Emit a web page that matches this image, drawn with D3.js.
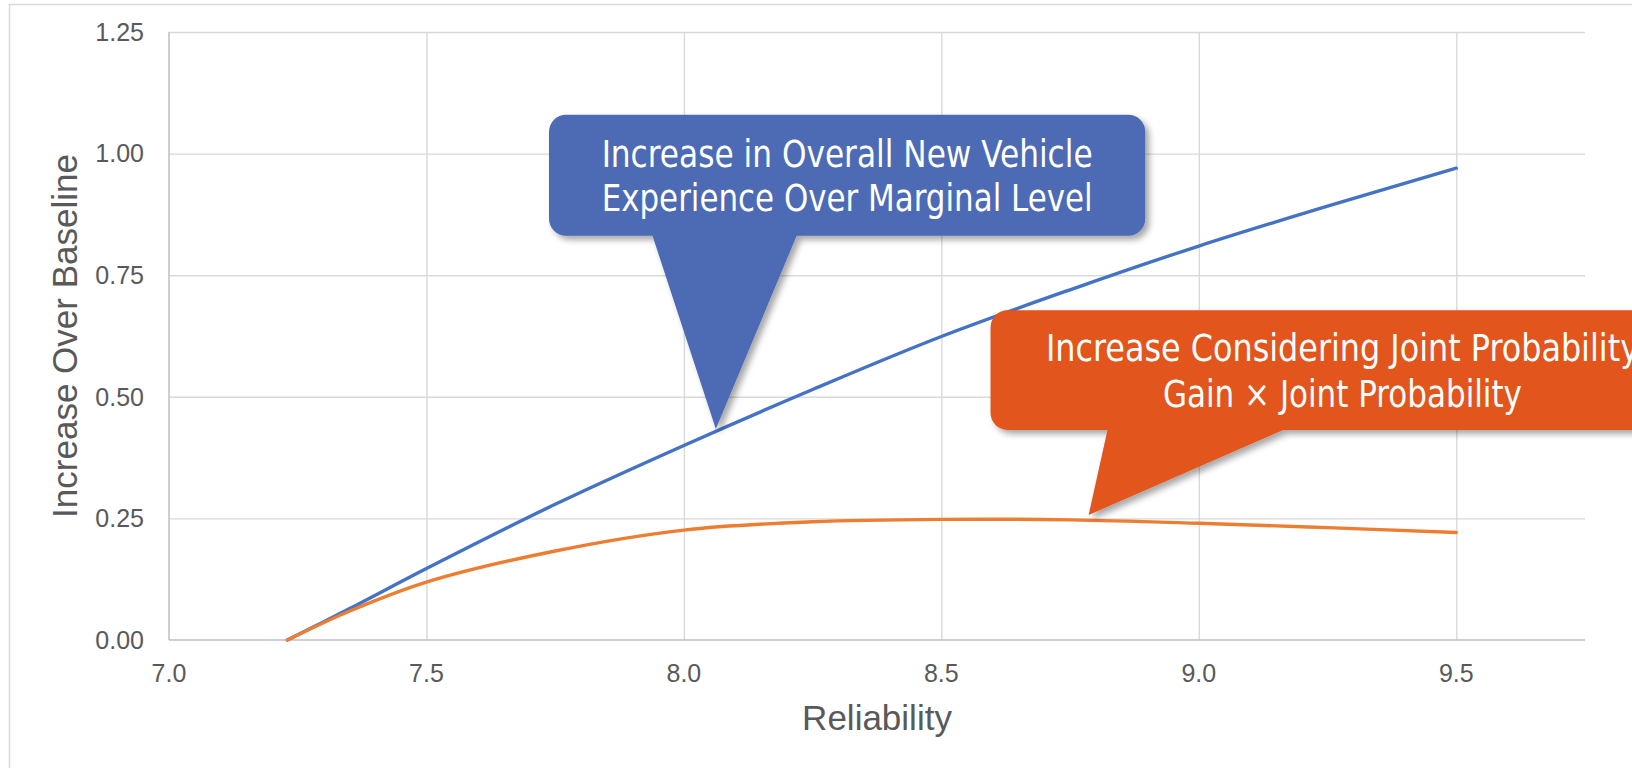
<!DOCTYPE html>
<html>
<head>
<meta charset="utf-8">
<script src="https://cdn.jsdelivr.net/npm/d3@7"></script>
<style>
  html, body { margin: 0; padding: 0; background: #fff; }
  svg { display: block; }
  .tick-label { font-family: "Liberation Sans", Arial, sans-serif; font-size: 25px; fill: #595959; }
  .axis-title { font-family: "Liberation Sans", Arial, sans-serif; font-size: 35px; fill: #595959; }
  .callout-text { font-family: "Liberation Sans Narrow", "DejaVu Sans Condensed", "Liberation Sans", sans-serif; font-size: 37px; fill: #fff; }
</style>
</head>
<body>
<svg id="chart" width="1632" height="768"></svg>
<script>
// Reliability score on the x axis
const reliability = [7.23, 7.35, 7.5, 7.75, 8.0, 8.25, 8.5, 8.75, 9.0, 9.25, 9.5];
// Increase in overall new vehicle experience over the marginal level
const overallIncrease = [0, 0.064, 0.147, 0.279, 0.40, 0.515, 0.624, 0.72, 0.81, 0.892, 0.97];
// Increase considering joint probability (gain x joint probability)
const jointIncrease = [0, 0.059, 0.119, 0.183, 0.226, 0.243, 0.248, 0.247, 0.240, 0.231, 0.221];

const xTicks = [7.0, 7.5, 8.0, 8.5, 9.0, 9.5];
const yTicks = [0, 0.25, 0.5, 0.75, 1.0, 1.25];

const xTitle = "Reliability";
const yTitle = "Increase Over Baseline";

// Callout annotations, anchored in data units
const calloutLines = [
  ["Increase in Overall New Vehicle", "Experience Over Marginal Level"],
  ["Increase Considering Joint Probability", "Gain \u00d7 Joint Probability"]
];

const W = 1632, H = 768;
const margin = { left: 169, top: 32, right: 1585, bottom: 640 };

const svg = d3.select("#chart");

const x = d3.scaleLinear().domain([7.0, 9.75]).range([margin.left, margin.right]);
const y = d3.scaleLinear().domain([0, 1.25]).range([margin.bottom, margin.top]);

// drop shadow for callouts
const defs = svg.append("defs");
const f = defs.append("filter").attr("id", "shadow")
  .attr("x", "-20%").attr("y", "-20%").attr("width", "140%").attr("height", "140%");
f.append("feDropShadow").attr("dx", 4).attr("dy", 4).attr("stdDeviation", 3)
  .attr("flood-color", "#000").attr("flood-opacity", 0.35);

// chart area border
svg.append("rect")
  .attr("x", 9.5).attr("y", 4.5).attr("width", 1800).attr("height", 900)
  .attr("fill", "#fff").attr("stroke", "#d9d9d9").attr("stroke-width", 1.5);

// horizontal gridlines
svg.append("g")
  .attr("transform", `translate(${margin.left},0)`)
  .call(d3.axisLeft(y).tickValues(yTicks.filter(d => d > 0))
    .tickSize(-(margin.right - margin.left)).tickFormat(""))
  .call(g => g.select(".domain").remove())
  .call(g => g.selectAll(".tick line").attr("stroke", "#d9d9d9").attr("stroke-width", 1.4));

// vertical gridlines
svg.append("g")
  .attr("transform", `translate(0,${margin.bottom})`)
  .call(d3.axisBottom(x).tickValues(xTicks.filter(d => d > 7.0))
    .tickSize(-(margin.bottom - margin.top)).tickFormat(""))
  .call(g => g.select(".domain").remove())
  .call(g => g.selectAll(".tick line").attr("stroke", "#d9d9d9").attr("stroke-width", 1.4));

// axis lines
svg.append("line")
  .attr("x1", x(7.0)).attr("x2", x(7.0)).attr("y1", y(1.25)).attr("y2", y(0))
  .attr("stroke", "#bfbfbf").attr("stroke-width", 1.5);
svg.append("line")
  .attr("x1", x(7.0)).attr("x2", x(9.75)).attr("y1", y(0)).attr("y2", y(0))
  .attr("stroke", "#bfbfbf").attr("stroke-width", 1.5);

// y tick labels
svg.append("g").selectAll("text").data(yTicks).join("text")
  .attr("class", "tick-label")
  .attr("x", margin.left - 25)
  .attr("y", d => y(d))
  .attr("dy", "0.35em")
  .attr("text-anchor", "end")
  .text(d => d3.format(".2f")(d));

// x tick labels
svg.append("g").selectAll("text").data(xTicks).join("text")
  .attr("class", "tick-label")
  .attr("x", d => x(d))
  .attr("y", margin.bottom + 42)
  .attr("text-anchor", "middle")
  .text(d => d3.format(".1f")(d));

// axis titles
svg.append("text").attr("class", "axis-title")
  .attr("x", (margin.left + margin.right) / 2).attr("y", 730)
  .attr("text-anchor", "middle").text(xTitle);
svg.append("text").attr("class", "axis-title")
  .attr("transform", `translate(77,${(margin.top + margin.bottom) / 2}) rotate(-90)`)
  .attr("text-anchor", "middle").text(yTitle);

// series lines
const line = d3.line()
  .x(d => x(d[0])).y(d => y(d[1]))
  .curve(d3.curveCatmullRom.alpha(0.5));

const series = [
  { values: overallIncrease, color: "#4472C4" },
  { values: jointIncrease, color: "#ED7D31" }
];
svg.append("g").selectAll("path").data(series).join("path")
  .attr("d", s => line(reliability.map((r, i) => [r, s.values[i]])))
  .attr("fill", "none")
  .attr("stroke", s => s.color)
  .attr("stroke-width", 3.4)
  .attr("stroke-linecap", "round");

// callouts
const callouts = [
  { box: [7.738, 1.08, 8.896, 0.831], base: [7.939, 8.219], tip: [8.062, 0.434],
    fill: "#4E6BB4", lines: calloutLines[0], widths: [491, 491], cx: null, dy: [52, 96] },
  { box: [8.5955, 0.678, 9.95, 0.432], base: [8.8226, 9.164], tip: [8.786, 0.257],
    fill: "#E2551C", lines: calloutLines[1], widths: [593, 359], cx: 9.279, dy: [51, 97] }
];

function calloutPath(c, r) {
  const x0 = x(c.box[0]), y0 = y(c.box[1]), x1 = x(c.box[2]), y1 = y(c.box[3]);
  const b0 = x(c.base[0]), b1 = x(c.base[1]);
  const tx = x(c.tip[0]), ty = y(c.tip[1]);
  const p = d3.path();
  p.moveTo(x0 + r, y0);
  p.lineTo(x1 - r, y0);
  p.arcTo(x1, y0, x1, y0 + r, r);
  p.lineTo(x1, y1 - r);
  p.arcTo(x1, y1, x1 - r, y1, r);
  p.lineTo(b1, y1);
  p.lineTo(tx, ty);
  p.lineTo(b0, y1);
  p.lineTo(x0 + r, y1);
  p.arcTo(x0, y1, x0, y1 - r, r);
  p.lineTo(x0, y0 + r);
  p.arcTo(x0, y0, x0 + r, y0, r);
  p.closePath();
  return p.toString();
}

const cg = svg.append("g").selectAll("g").data(callouts).join("g");
cg.append("path")
  .attr("d", c => calloutPath(c, 17))
  .attr("fill", c => c.fill)
  .attr("filter", "url(#shadow)");
cg.each(function (c) {
  const g = d3.select(this);
  const cx = c.cx != null ? x(c.cx) : (x(c.box[0]) + x(c.box[2])) / 2;
  c.lines.forEach((t, i) => {
    g.append("text").attr("class", "callout-text")
      .attr("x", cx)
      .attr("y", y(c.box[1]) + c.dy[i])
      .attr("text-anchor", "middle")
      .attr("textLength", c.widths[i])
      .attr("lengthAdjust", "spacingAndGlyphs")
      .text(t);
  });
});
</script>
</body>
</html>
